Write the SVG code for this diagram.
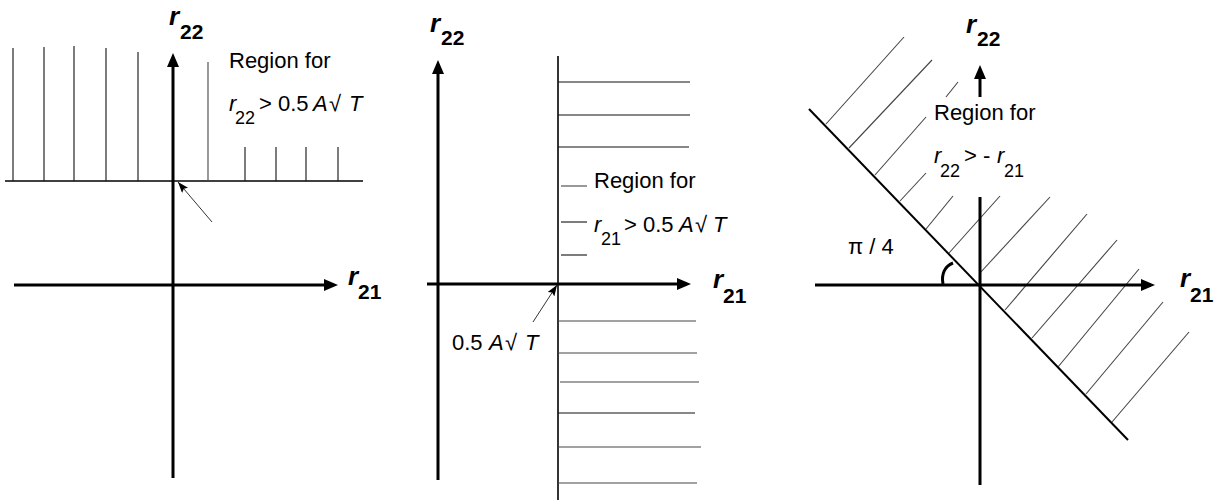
<svg xmlns="http://www.w3.org/2000/svg" width="1223" height="500" viewBox="0 0 1223 500">
<style>
text{font-family:"Liberation Sans",Arial,sans-serif;fill:#000}
.t{font-size:22px}
.sub{font-size:18px}
.it{font-style:italic}
.axr{font-size:26px;font-style:italic;font-weight:bold}
.axs{font-size:21px;font-weight:bold}
.axis{stroke:#000;stroke-width:3;fill:none}
.bound{stroke:#000;stroke-width:1.6;fill:none}
.hatch{stroke:#111;stroke-width:1.1;fill:none}
.hatchg{stroke:#444;stroke-width:1.1;fill:none}
.ptr{stroke:#333;stroke-width:1;fill:none}
</style>
<defs>
<marker id="ah" viewBox="0 0 14 12" refX="10" refY="6" markerWidth="14" markerHeight="12" markerUnits="userSpaceOnUse" orient="auto">
<path d="M0,0 L14,6 L0,12 z" fill="#000"/>
</marker>
<marker id="sh" viewBox="0 0 11 8" refX="11" refY="4" markerWidth="11" markerHeight="8" markerUnits="userSpaceOnUse" orient="auto">
<path d="M0,0 L11,4 L0,8 L2,4 z" fill="#000"/>
</marker>
</defs>
<rect width="1223" height="500" fill="#fff"/>

<g id="panel1">
<g id="p1-hatch">
<line class="bound" x1="5" y1="181" x2="363" y2="181"/>
<line class="hatch" x1="13" y1="48" x2="13" y2="181"/>
<line class="hatch" x1="44" y1="47" x2="44" y2="181"/>
<line class="hatch" x1="74" y1="46" x2="74" y2="181"/>
<line class="hatch" x1="106" y1="48" x2="106" y2="181"/>
<line class="hatch" x1="138" y1="52" x2="138" y2="181"/>
<line class="hatchg" x1="208" y1="62" x2="208" y2="181"/>
<line class="hatch" x1="245" y1="147" x2="245" y2="181"/>
<line class="hatch" x1="276" y1="147" x2="276" y2="181"/>
<line class="hatch" x1="306" y1="147" x2="306" y2="181"/>
<line class="hatch" x1="338" y1="147" x2="338" y2="181"/>
</g>
<g id="p1-axes">
<line class="axis" x1="173" y1="478" x2="173" y2="57" marker-end="url(#ah)"/>
<line class="axis" x1="14" y1="285" x2="334" y2="285" marker-end="url(#ah)"/>
</g>
<text x="169" y="25"><tspan class="axr">r</tspan><tspan class="axs" x="180" y="39">22</tspan></text>
<text x="348" y="285"><tspan class="axr">r</tspan><tspan class="axs" x="358" y="299">21</tspan></text>
<text class="t" x="229" y="68">Region for</text>
<text class="t" y="111"><tspan class="it" x="229">r</tspan><tspan class="sub" x="235" y="124">22</tspan><tspan x="259" y="111">&gt; 0.5</tspan><tspan class="it" x="313">A</tspan><tspan x="329">√</tspan><tspan class="it" x="349">T</tspan></text>
</g>

<g id="panel2">
<g id="p2-hatch">
<line class="bound" x1="558" y1="56" x2="558" y2="500"/>
<line class="hatch" x1="558" y1="82" x2="690" y2="82"/>
<line class="hatch" x1="558" y1="115" x2="690" y2="115"/>
<line class="hatch" x1="558" y1="147" x2="689" y2="147"/>
<line class="hatchg" x1="561" y1="186" x2="587" y2="186"/>
<line class="hatch" x1="561" y1="222" x2="587" y2="222"/>
<line class="hatch" x1="561" y1="255" x2="587" y2="255"/>
<line class="hatchg" x1="558" y1="321" x2="696" y2="321"/>
<line class="hatchg" x1="558" y1="353" x2="697" y2="353"/>
<line class="hatchg" x1="560" y1="382" x2="699" y2="382"/>
<line class="hatch" x1="558" y1="413" x2="695" y2="413"/>
<line class="hatchg" x1="558" y1="447" x2="701" y2="447"/>
<line class="hatchg" x1="558" y1="483" x2="697" y2="483"/>
</g>
<g id="p2-axes">
<line class="axis" x1="438" y1="480" x2="438" y2="64" marker-end="url(#ah)"/>
<line class="axis" x1="427" y1="284" x2="687" y2="284" marker-end="url(#ah)"/>
</g>
<text x="430" y="32"><tspan class="axr">r</tspan><tspan class="axs" x="441" y="45">22</tspan></text>
<text x="713" y="288"><tspan class="axr">r</tspan><tspan class="axs" x="723" y="303">21</tspan></text>
<text class="t" x="594" y="188">Region for</text>
<text class="t" y="232"><tspan class="it" x="594">r</tspan><tspan class="sub" x="601" y="245">21</tspan><tspan x="624" y="232">&gt; 0.5</tspan><tspan class="it" x="679">A</tspan><tspan x="695">√</tspan><tspan class="it" x="713">T</tspan></text>
<text class="t" y="350"><tspan x="452">0.5</tspan><tspan class="it" x="489">A</tspan><tspan x="505">√</tspan><tspan class="it" x="525">T</tspan></text>
</g>

<g id="panel3">
<g id="p3-hatch">
<line class="hatchg" x1="826" y1="124" x2="904" y2="37"/>
<line class="hatchg" x1="849" y1="148" x2="932" y2="60"/>
<line class="hatchg" x1="875" y1="175" x2="926" y2="117"/>
<line class="hatchg" x1="946" y1="97" x2="958" y2="82"/>
<line class="hatchg" x1="900" y1="201" x2="926" y2="173"/>
<line class="hatchg" x1="926" y1="229" x2="953" y2="196"/>
<line class="hatchg" x1="949" y1="253" x2="1000" y2="196"/>
<line class="hatchg" x1="980" y1="273" x2="1050" y2="197"/>
<line class="hatchg" x1="1005" y1="310" x2="1087" y2="214"/>
<line class="hatchg" x1="1032" y1="338" x2="1117" y2="240"/>
<line class="hatchg" x1="1058" y1="367" x2="1139" y2="269"/>
<line class="hatchg" x1="1086" y1="394" x2="1163" y2="302"/>
<line class="hatchg" x1="1112" y1="422" x2="1189" y2="332"/>
<line class="bound" x1="809" y1="109" x2="1128" y2="440" style="stroke-width:2"/>
</g>
<g id="p3-axes">
<line class="axis" x1="980" y1="97" x2="980" y2="69" marker-end="url(#ah)"/>
<line class="axis" x1="980" y1="197" x2="980" y2="485"/>
<line class="axis" x1="815" y1="285" x2="1151" y2="285" marker-end="url(#ah)"/>
<path d="M943 284 C941 274 945 266 953 263" fill="none" stroke="#000" stroke-width="3"/>
</g>
<text x="966" y="33"><tspan class="axr">r</tspan><tspan class="axs" x="977" y="46">22</tspan></text>
<text x="1180" y="287"><tspan class="axr">r</tspan><tspan class="axs" x="1190" y="302">21</tspan></text>
<text class="t" x="934" y="120">Region for</text>
<text class="t" y="163"><tspan class="it" x="934">r</tspan><tspan class="sub" x="940" y="177">22</tspan><tspan x="964" y="163">&gt; -</tspan><tspan class="it" x="997">r</tspan><tspan class="sub" x="1004" y="177">21</tspan></text>
<text class="t" x="848" y="254">π / 4</text>
</g>

<g id="connectors">
<line class="ptr" x1="212" y1="222" x2="178" y2="182" marker-end="url(#sh)"/>
<line class="ptr" x1="533" y1="322" x2="557" y2="285" marker-end="url(#sh)"/>
</g>
</svg>
